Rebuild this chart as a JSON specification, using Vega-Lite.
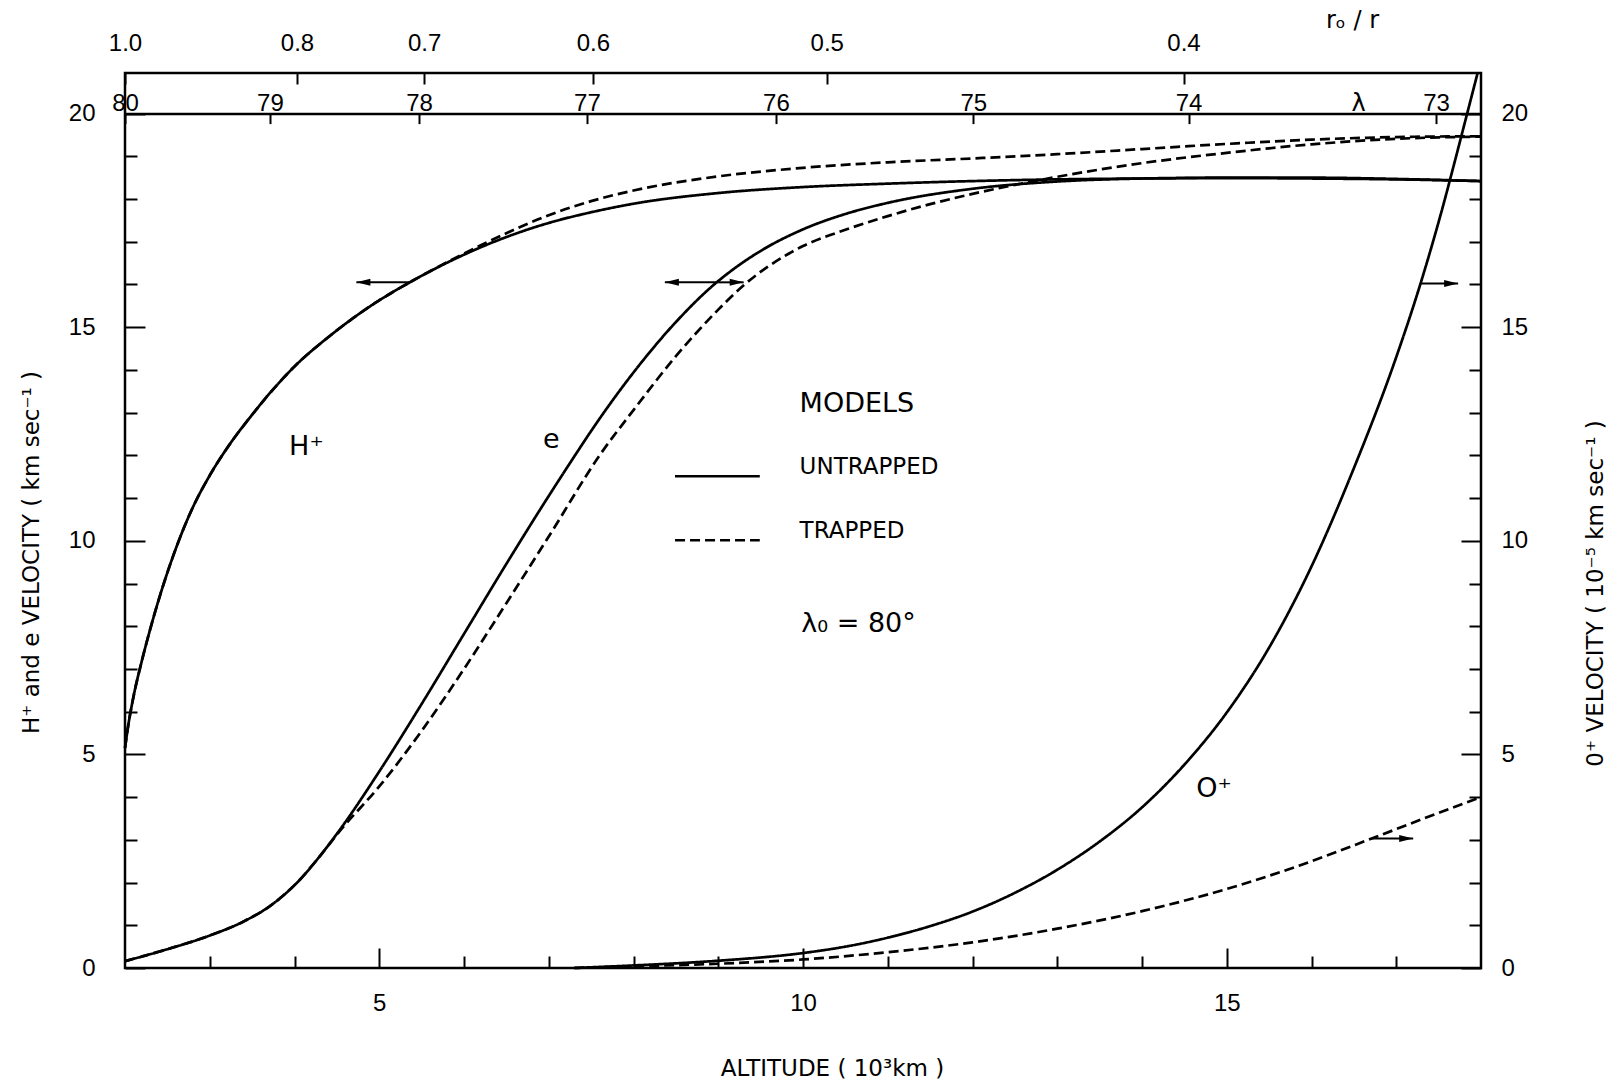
{
  "$schema": "https://vega.github.io/schema/vega-lite/v6.json",
  "width": 1356,
  "height": 895,
  "autosize": {"type": "none"},
  "padding": {"left": 125, "top": 73, "right": 135, "bottom": 113},
  "background": "white",
  "view": {"stroke": "black", "strokeWidth": 2.5},
  "config": {
    "axis": {
      "domain": false,
      "grid": false,
      "tickColor": "black",
      "tickWidth": 2,
      "labelColor": "black",
      "labelFont": "Liberation Sans",
      "labelFontSize": 24,
      "labelFontWeight": "normal",
      "labelOverlap": false,
      "labelFlush": false,
      "titleFont": "DejaVu Sans",
      "titleFontSize": 23,
      "titleFontWeight": "normal",
      "titleColor": "black"
    },
    "text": {"font": "DejaVu Sans", "color": "black"}
  },
  "datasets": {
    "fast": [
      {"ion": "H+", "model": "untrapped", "alt": 2.0, "v": 5.15},
      {"ion": "H+", "model": "untrapped", "alt": 2.04, "v": 5.7},
      {"ion": "H+", "model": "untrapped", "alt": 2.1, "v": 6.35},
      {"ion": "H+", "model": "untrapped", "alt": 2.2, "v": 7.2},
      {"ion": "H+", "model": "untrapped", "alt": 2.3, "v": 7.95},
      {"ion": "H+", "model": "untrapped", "alt": 2.41, "v": 8.7},
      {"ion": "H+", "model": "untrapped", "alt": 2.53, "v": 9.43},
      {"ion": "H+", "model": "untrapped", "alt": 2.65, "v": 10.08},
      {"ion": "H+", "model": "untrapped", "alt": 2.8, "v": 10.78},
      {"ion": "H+", "model": "untrapped", "alt": 3.0, "v": 11.53},
      {"ion": "H+", "model": "untrapped", "alt": 3.25, "v": 12.3},
      {"ion": "H+", "model": "untrapped", "alt": 3.5, "v": 12.95},
      {"ion": "H+", "model": "untrapped", "alt": 3.75, "v": 13.55},
      {"ion": "H+", "model": "untrapped", "alt": 4.0, "v": 14.08},
      {"ion": "H+", "model": "untrapped", "alt": 4.42, "v": 14.8},
      {"ion": "H+", "model": "untrapped", "alt": 4.9, "v": 15.5},
      {"ion": "H+", "model": "untrapped", "alt": 5.36, "v": 16.05},
      {"ion": "H+", "model": "untrapped", "alt": 5.75, "v": 16.46},
      {"ion": "H+", "model": "untrapped", "alt": 6.15, "v": 16.83},
      {"ion": "H+", "model": "untrapped", "alt": 6.5, "v": 17.11},
      {"ion": "H+", "model": "untrapped", "alt": 7.0, "v": 17.44},
      {"ion": "H+", "model": "untrapped", "alt": 7.5, "v": 17.69},
      {"ion": "H+", "model": "untrapped", "alt": 8.0, "v": 17.89},
      {"ion": "H+", "model": "untrapped", "alt": 9.0, "v": 18.14},
      {"ion": "H+", "model": "untrapped", "alt": 10.0, "v": 18.28},
      {"ion": "H+", "model": "untrapped", "alt": 11.0, "v": 18.36},
      {"ion": "H+", "model": "untrapped", "alt": 12.0, "v": 18.42},
      {"ion": "H+", "model": "untrapped", "alt": 13.0, "v": 18.46},
      {"ion": "H+", "model": "untrapped", "alt": 14.0, "v": 18.48},
      {"ion": "H+", "model": "untrapped", "alt": 15.0, "v": 18.49},
      {"ion": "H+", "model": "untrapped", "alt": 16.0, "v": 18.48},
      {"ion": "H+", "model": "untrapped", "alt": 17.0, "v": 18.46},
      {"ion": "H+", "model": "untrapped", "alt": 18.0, "v": 18.42},

      {"ion": "H+", "model": "trapped", "alt": 2.0, "v": 5.15},
      {"ion": "H+", "model": "trapped", "alt": 2.04, "v": 5.7},
      {"ion": "H+", "model": "trapped", "alt": 2.1, "v": 6.35},
      {"ion": "H+", "model": "trapped", "alt": 2.2, "v": 7.2},
      {"ion": "H+", "model": "trapped", "alt": 2.3, "v": 7.95},
      {"ion": "H+", "model": "trapped", "alt": 2.41, "v": 8.7},
      {"ion": "H+", "model": "trapped", "alt": 2.53, "v": 9.43},
      {"ion": "H+", "model": "trapped", "alt": 2.65, "v": 10.08},
      {"ion": "H+", "model": "trapped", "alt": 2.8, "v": 10.78},
      {"ion": "H+", "model": "trapped", "alt": 3.0, "v": 11.53},
      {"ion": "H+", "model": "trapped", "alt": 3.25, "v": 12.3},
      {"ion": "H+", "model": "trapped", "alt": 3.5, "v": 12.95},
      {"ion": "H+", "model": "trapped", "alt": 3.75, "v": 13.55},
      {"ion": "H+", "model": "trapped", "alt": 4.0, "v": 14.08},
      {"ion": "H+", "model": "trapped", "alt": 4.42, "v": 14.8},
      {"ion": "H+", "model": "trapped", "alt": 4.9, "v": 15.5},
      {"ion": "H+", "model": "trapped", "alt": 5.36, "v": 16.05},
      {"ion": "H+", "model": "trapped", "alt": 5.75, "v": 16.47},
      {"ion": "H+", "model": "trapped", "alt": 6.15, "v": 16.87},
      {"ion": "H+", "model": "trapped", "alt": 6.5, "v": 17.2},
      {"ion": "H+", "model": "trapped", "alt": 7.0, "v": 17.62},
      {"ion": "H+", "model": "trapped", "alt": 7.5, "v": 17.95},
      {"ion": "H+", "model": "trapped", "alt": 8.0, "v": 18.2},
      {"ion": "H+", "model": "trapped", "alt": 9.0, "v": 18.53},
      {"ion": "H+", "model": "trapped", "alt": 10.0, "v": 18.73},
      {"ion": "H+", "model": "trapped", "alt": 11.0, "v": 18.86},
      {"ion": "H+", "model": "trapped", "alt": 12.0, "v": 18.95},
      {"ion": "H+", "model": "trapped", "alt": 13.0, "v": 19.05},
      {"ion": "H+", "model": "trapped", "alt": 14.0, "v": 19.17},
      {"ion": "H+", "model": "trapped", "alt": 15.0, "v": 19.29},
      {"ion": "H+", "model": "trapped", "alt": 16.0, "v": 19.39},
      {"ion": "H+", "model": "trapped", "alt": 17.0, "v": 19.45},
      {"ion": "H+", "model": "trapped", "alt": 18.0, "v": 19.47},

      {"ion": "e", "model": "untrapped", "alt": 2.0, "v": 0.16},
      {"ion": "e", "model": "untrapped", "alt": 2.5, "v": 0.44},
      {"ion": "e", "model": "untrapped", "alt": 3.0, "v": 0.76},
      {"ion": "e", "model": "untrapped", "alt": 3.4, "v": 1.09},
      {"ion": "e", "model": "untrapped", "alt": 3.71, "v": 1.45},
      {"ion": "e", "model": "untrapped", "alt": 4.06, "v": 2.06},
      {"ion": "e", "model": "untrapped", "alt": 4.3, "v": 2.62},
      {"ion": "e", "model": "untrapped", "alt": 4.54, "v": 3.25},
      {"ion": "e", "model": "untrapped", "alt": 5.0, "v": 4.6},
      {"ion": "e", "model": "untrapped", "alt": 5.5, "v": 6.18},
      {"ion": "e", "model": "untrapped", "alt": 6.0, "v": 7.82},
      {"ion": "e", "model": "untrapped", "alt": 6.5, "v": 9.46},
      {"ion": "e", "model": "untrapped", "alt": 7.0, "v": 11.05},
      {"ion": "e", "model": "untrapped", "alt": 7.31, "v": 12.0},
      {"ion": "e", "model": "untrapped", "alt": 7.5, "v": 12.57},
      {"ion": "e", "model": "untrapped", "alt": 8.0, "v": 13.94},
      {"ion": "e", "model": "untrapped", "alt": 8.5, "v": 15.12},
      {"ion": "e", "model": "untrapped", "alt": 8.94, "v": 15.98},
      {"ion": "e", "model": "untrapped", "alt": 9.25, "v": 16.46},
      {"ion": "e", "model": "untrapped", "alt": 9.53, "v": 16.82},
      {"ion": "e", "model": "untrapped", "alt": 10.0, "v": 17.29},
      {"ion": "e", "model": "untrapped", "alt": 10.5, "v": 17.65},
      {"ion": "e", "model": "untrapped", "alt": 11.0, "v": 17.91},
      {"ion": "e", "model": "untrapped", "alt": 12.0, "v": 18.24},
      {"ion": "e", "model": "untrapped", "alt": 13.0, "v": 18.41},
      {"ion": "e", "model": "untrapped", "alt": 14.0, "v": 18.48},
      {"ion": "e", "model": "untrapped", "alt": 15.0, "v": 18.5},
      {"ion": "e", "model": "untrapped", "alt": 16.0, "v": 18.5},
      {"ion": "e", "model": "untrapped", "alt": 17.0, "v": 18.47},
      {"ion": "e", "model": "untrapped", "alt": 18.0, "v": 18.42},

      {"ion": "e", "model": "trapped", "alt": 2.0, "v": 0.16},
      {"ion": "e", "model": "trapped", "alt": 2.5, "v": 0.44},
      {"ion": "e", "model": "trapped", "alt": 3.0, "v": 0.76},
      {"ion": "e", "model": "trapped", "alt": 3.4, "v": 1.09},
      {"ion": "e", "model": "trapped", "alt": 3.71, "v": 1.45},
      {"ion": "e", "model": "trapped", "alt": 4.06, "v": 2.06},
      {"ion": "e", "model": "trapped", "alt": 4.3, "v": 2.62},
      {"ion": "e", "model": "trapped", "alt": 4.54, "v": 3.22},
      {"ion": "e", "model": "trapped", "alt": 5.0, "v": 4.25},
      {"ion": "e", "model": "trapped", "alt": 5.5, "v": 5.55},
      {"ion": "e", "model": "trapped", "alt": 6.0, "v": 7.0},
      {"ion": "e", "model": "trapped", "alt": 6.5, "v": 8.54},
      {"ion": "e", "model": "trapped", "alt": 7.0, "v": 10.1},
      {"ion": "e", "model": "trapped", "alt": 7.6, "v": 12.0},
      {"ion": "e", "model": "trapped", "alt": 8.0, "v": 13.06},
      {"ion": "e", "model": "trapped", "alt": 8.5, "v": 14.32},
      {"ion": "e", "model": "trapped", "alt": 9.0, "v": 15.41},
      {"ion": "e", "model": "trapped", "alt": 9.3, "v": 15.98},
      {"ion": "e", "model": "trapped", "alt": 9.83, "v": 16.72},
      {"ion": "e", "model": "trapped", "alt": 10.0, "v": 16.9},
      {"ion": "e", "model": "trapped", "alt": 10.5, "v": 17.28},
      {"ion": "e", "model": "trapped", "alt": 11.0, "v": 17.6},
      {"ion": "e", "model": "trapped", "alt": 11.5, "v": 17.88},
      {"ion": "e", "model": "trapped", "alt": 12.0, "v": 18.12},
      {"ion": "e", "model": "trapped", "alt": 12.5, "v": 18.33},
      {"ion": "e", "model": "trapped", "alt": 13.0, "v": 18.52},
      {"ion": "e", "model": "trapped", "alt": 14.0, "v": 18.84},
      {"ion": "e", "model": "trapped", "alt": 15.0, "v": 19.08},
      {"ion": "e", "model": "trapped", "alt": 16.0, "v": 19.28},
      {"ion": "e", "model": "trapped", "alt": 17.0, "v": 19.41},
      {"ion": "e", "model": "trapped", "alt": 18.0, "v": 19.46}
    ],
    "slow": [
      {"ion": "O+", "model": "untrapped", "alt": 7.3, "v": 0.0},
      {"ion": "O+", "model": "untrapped", "alt": 8.0, "v": 0.06},
      {"ion": "O+", "model": "untrapped", "alt": 9.0, "v": 0.17},
      {"ion": "O+", "model": "untrapped", "alt": 10.0, "v": 0.35},
      {"ion": "O+", "model": "untrapped", "alt": 10.5, "v": 0.5},
      {"ion": "O+", "model": "untrapped", "alt": 11.0, "v": 0.71},
      {"ion": "O+", "model": "untrapped", "alt": 11.5, "v": 0.98},
      {"ion": "O+", "model": "untrapped", "alt": 12.0, "v": 1.32},
      {"ion": "O+", "model": "untrapped", "alt": 12.5, "v": 1.76},
      {"ion": "O+", "model": "untrapped", "alt": 13.0, "v": 2.3},
      {"ion": "O+", "model": "untrapped", "alt": 13.5, "v": 2.96},
      {"ion": "O+", "model": "untrapped", "alt": 14.0, "v": 3.76},
      {"ion": "O+", "model": "untrapped", "alt": 14.5, "v": 4.76},
      {"ion": "O+", "model": "untrapped", "alt": 15.0, "v": 5.98},
      {"ion": "O+", "model": "untrapped", "alt": 15.5, "v": 7.5},
      {"ion": "O+", "model": "untrapped", "alt": 16.0, "v": 9.4},
      {"ion": "O+", "model": "untrapped", "alt": 16.5, "v": 11.7},
      {"ion": "O+", "model": "untrapped", "alt": 17.0, "v": 14.3},
      {"ion": "O+", "model": "untrapped", "alt": 17.28, "v": 15.98},
      {"ion": "O+", "model": "untrapped", "alt": 17.54, "v": 17.75},
      {"ion": "O+", "model": "untrapped", "alt": 17.7, "v": 18.95},
      {"ion": "O+", "model": "untrapped", "alt": 17.83, "v": 19.95},
      {"ion": "O+", "model": "untrapped", "alt": 17.96, "v": 20.95},

      {"ion": "O+", "model": "trapped", "alt": 7.3, "v": 0.0},
      {"ion": "O+", "model": "trapped", "alt": 8.0, "v": 0.04},
      {"ion": "O+", "model": "trapped", "alt": 9.0, "v": 0.1},
      {"ion": "O+", "model": "trapped", "alt": 10.0, "v": 0.2},
      {"ion": "O+", "model": "trapped", "alt": 11.0, "v": 0.37},
      {"ion": "O+", "model": "trapped", "alt": 12.0, "v": 0.6},
      {"ion": "O+", "model": "trapped", "alt": 13.0, "v": 0.92},
      {"ion": "O+", "model": "trapped", "alt": 14.0, "v": 1.33},
      {"ion": "O+", "model": "trapped", "alt": 15.0, "v": 1.85},
      {"ion": "O+", "model": "trapped", "alt": 15.86, "v": 2.4},
      {"ion": "O+", "model": "trapped", "alt": 16.71, "v": 3.03},
      {"ion": "O+", "model": "trapped", "alt": 17.3, "v": 3.48},
      {"ion": "O+", "model": "trapped", "alt": 18.0, "v": 4.0}
    ],
    "arrows": [
      {"tip": 4.73, "base": 5.36, "v": 16.05, "dir": "left"},
      {"tip": 8.37, "base": 9.0, "v": 16.05, "dir": "left"},
      {"tip": 9.3, "base": 9.0, "v": 16.05, "dir": "right"},
      {"tip": 17.73, "base": 17.28, "v": 16.02, "dir": "right"},
      {"tip": 17.2, "base": 16.71, "v": 3.03, "dir": "right"}
    ],
    "keys": [
      {"x": 8.49, "x2": 9.49, "v": 11.51, "model": "untrapped"},
      {"x": 8.49, "x2": 9.49, "v": 10.01, "model": "trapped"}
    ],
    "curveLabels": [
      {"x": 4.14, "v": 12.2, "text": "H⁺"},
      {"x": 7.03, "v": 12.35, "text": "e"},
      {"x": 14.85, "v": 4.19, "text": "O⁺"}
    ],
    "notes": [
      {"x": 9.96, "v": 13.2, "text": "MODELS", "kind": "head"},
      {"x": 9.96, "v": 11.72, "text": "UNTRAPPED", "kind": "entry"},
      {"x": 9.96, "v": 10.22, "text": "TRAPPED", "kind": "entry"},
      {"x": 9.98, "v": 8.06, "text": "λ₀ = 80°", "kind": "head"}
    ]
  },
  "layer": [
    {
      "data": {"name": "fast"},
      "mark": {"type": "line", "color": "black", "strokeWidth": 2.7, "interpolate": "monotone"},
      "encoding": {
        "x": {
          "field": "alt", "type": "quantitative",
          "scale": {"domain": [2, 18], "nice": false, "zero": false},
          "axis": {
            "orient": "bottom", "values": [5, 10, 15], "format": "d",
            "tickSize": -20, "labelPadding": 62, "labelBaseline": "alphabetic", "labelAlign": "center",
            "title": "ALTITUDE ( 10³km )", "titleX": 707, "titleY": 100,
            "titleAlign": "center", "titleBaseline": "middle", "titleAngle": 0
          }
        },
        "y": {
          "field": "v", "type": "quantitative",
          "scale": {"domain": [0, 20.95], "nice": false, "zero": false},
          "axis": {
            "orient": "left", "values": [0, 5, 10, 15, 20], "format": "d",
            "tickSize": -20, "labelPadding": 50, "labelAlign": "right", "labelBaseline": "middle",
            "title": "H⁺ and e VELOCITY ( km sec⁻¹ )", "titleX": -94, "titleY": 479,
            "titleAngle": -90, "titleAlign": "center", "titleBaseline": "middle"
          }
        },
        "detail": {"field": "ion"},
        "strokeDash": {
          "field": "model", "type": "nominal",
          "scale": {"domain": ["untrapped", "trapped"], "range": [[1, 0], [10, 5]]},
          "legend": null
        }
      }
    },
    {
      "data": {"name": "slow"},
      "mark": {"type": "line", "color": "black", "strokeWidth": 2.7, "interpolate": "monotone"},
      "encoding": {
        "x": {
          "field": "alt", "type": "quantitative",
          "scale": {"domain": [2, 18], "nice": false, "zero": false},
          "axis": {
            "orient": "top", "offset": -40.6, "domain": true, "domainColor": "black", "domainWidth": 2.5,
            "values": [2, 3.71, 5.47, 7.45, 9.68, 12.01, 14.55, 17.47],
            "labelExpr": "datum.value < 2.5 ? '80' : datum.value < 4.5 ? '79' : datum.value < 6.5 ? '78' : datum.value < 8.5 ? '77' : datum.value < 10.5 ? '76' : datum.value < 13 ? '75' : datum.value < 16 ? '74' : '73'",
            "tickSize": -10, "labelPadding": 13, "labelBaseline": "alphabetic", "labelAlign": "center",
            "labelFlush": true, "labelFlushOffset": -7,
            "title": "λ", "titleX": 1233, "titleY": -3, "titleAlign": "center", "titleBaseline": "alphabetic",
            "titleFontSize": 24, "titleAngle": 0
          }
        },
        "y": {
          "field": "v", "type": "quantitative",
          "scale": {"domain": [0, 20.95], "nice": false, "zero": false},
          "axis": {
            "orient": "right", "values": [0, 5, 10, 15, 20], "format": "d",
            "tickSize": -20, "labelPadding": 40, "labelAlign": "left", "labelBaseline": "middle",
            "title": "0⁺ VELOCITY ( 10⁻⁵ km sec⁻¹ )", "titleX": 114, "titleY": 520,
            "titleAngle": -90, "titleAlign": "center", "titleBaseline": "middle"
          }
        },
        "detail": {"field": "ion"},
        "strokeDash": {
          "field": "model", "type": "nominal",
          "scale": {"domain": ["untrapped", "trapped"], "range": [[1, 0], [10, 5]]},
          "legend": null
        }
      }
    },
    {
      "data": {"name": "arrows"},
      "mark": {"type": "rule", "color": "black", "strokeWidth": 2},
      "encoding": {
        "x": {
          "field": "tip", "type": "quantitative",
          "scale": {"domain": [2, 18], "nice": false, "zero": false},
          "axis": {
            "orient": "bottom", "values": [3, 4, 6, 7, 8, 9, 11, 12, 13, 14, 16, 17],
            "tickSize": -12, "labels": false, "title": null
          }
        },
        "x2": {"field": "base"},
        "y": {
          "field": "v", "type": "quantitative",
          "scale": {"domain": [0, 20.95], "nice": false, "zero": false},
          "axis": {
            "orient": "left", "values": [1, 2, 3, 4, 6, 7, 8, 9, 11, 12, 13, 14, 16, 17, 18, 19],
            "tickSize": -12, "labels": false, "title": null
          }
        }
      }
    },
    {
      "data": {"name": "arrows"},
      "mark": {"type": "point", "filled": true, "color": "black", "opacity": 1, "size": 196, "strokeWidth": 0},
      "encoding": {
        "x": {
          "field": "tip", "type": "quantitative",
          "scale": {"domain": [2, 18], "nice": false, "zero": false},
          "axis": {
            "orient": "top", "values": [2, 4.03, 5.53, 7.52, 10.28, 14.49],
            "labelExpr": "datum.value < 3 ? '1.0' : datum.value < 4.8 ? '0.8' : datum.value < 6.5 ? '0.7' : datum.value < 9 ? '0.6' : datum.value < 12 ? '0.5' : '0.4'",
            "tickSize": -11, "labelPadding": 34, "labelBaseline": "alphabetic", "labelAlign": "center",
            "labelFlush": false,
            "title": "rₒ / r", "titleX": 1227, "titleY": -46, "titleAlign": "center", "titleBaseline": "alphabetic",
            "titleFontSize": 24, "titleAngle": 0
          }
        },
        "y": {
          "field": "v", "type": "quantitative",
          "scale": {"domain": [0, 20.95], "nice": false, "zero": false},
          "axis": {
            "orient": "right", "values": [1, 2, 3, 4, 6, 7, 8, 9, 11, 12, 13, 14, 16, 17, 18, 19],
            "tickSize": -12, "labels": false, "title": null
          }
        },
        "shape": {
          "field": "dir", "type": "nominal",
          "scale": {"domain": ["left", "right"], "range": ["M0,0L2,-0.5L2,0.5Z", "M0,0L-2,-0.5L-2,0.5Z"]},
          "legend": null
        }
      }
    },
    {
      "data": {"name": "keys"},
      "mark": {"type": "rule", "color": "black", "strokeWidth": 2.5},
      "encoding": {
        "x": {"field": "x", "type": "quantitative", "scale": {"domain": [2, 18], "nice": false, "zero": false}, "axis": null},
        "x2": {"field": "x2"},
        "y": {"field": "v", "type": "quantitative", "scale": {"domain": [0, 20.95], "nice": false, "zero": false}, "axis": null},
        "strokeDash": {
          "field": "model", "type": "nominal",
          "scale": {"domain": ["untrapped", "trapped"], "range": [[1, 0], [10, 5]]},
          "legend": null
        }
      }
    },
    {
      "data": {"name": "curveLabels"},
      "mark": {"type": "text", "align": "center", "baseline": "middle", "fontSize": 27, "font": "DejaVu Sans", "color": "black"},
      "encoding": {
        "x": {"field": "x", "type": "quantitative", "scale": {"domain": [2, 18], "nice": false, "zero": false}, "axis": null},
        "y": {"field": "v", "type": "quantitative", "scale": {"domain": [0, 20.95], "nice": false, "zero": false}, "axis": null},
        "text": {"field": "text"}
      }
    },
    {
      "data": {"name": "notes"},
      "mark": {"type": "text", "align": "left", "baseline": "middle", "font": "DejaVu Sans", "color": "black"},
      "encoding": {
        "x": {"field": "x", "type": "quantitative", "scale": {"domain": [2, 18], "nice": false, "zero": false}, "axis": null},
        "y": {"field": "v", "type": "quantitative", "scale": {"domain": [0, 20.95], "nice": false, "zero": false}, "axis": null},
        "text": {"field": "text"},
        "size": {
          "field": "kind", "type": "nominal",
          "scale": {"domain": ["head", "entry"], "range": [27, 23]},
          "legend": null
        }
      }
    }
  ],
  "resolve": {"axis": {"x": "independent", "y": "independent"}}
}
